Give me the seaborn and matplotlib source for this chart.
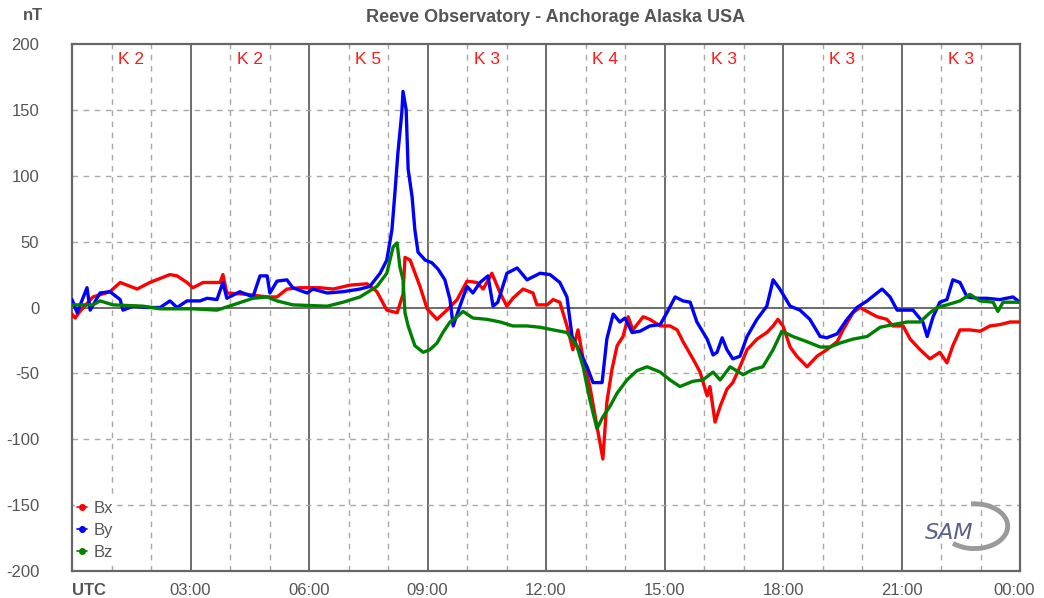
"""
Magnetometer chart: Reeve Observatory, Anchorage Alaska.
Values read by eye from the reference picture.
"""
import pandas as pd
import matplotlib
matplotlib.use("Agg")
import matplotlib.pyplot as plt
import matplotlib.transforms as mtransforms
from matplotlib.patches import Arc
from matplotlib.lines import Line2D
import seaborn as sns

# --- Data (hours UTC, nT) ---
bx_hours = [0.0, 0.08, 0.2, 0.53, 0.96, 1.22, 1.65, 1.97, 2.48, 2.66, 2.91, 3.06, 3.32, 3.75,
            3.82, 3.92, 4.43, 4.94, 5.19, 5.44, 5.77, 6.28, 6.61, 7.04, 7.47, 7.72, 7.97, 8.23,
            8.38, 8.43, 8.56, 8.81, 8.99, 9.24, 9.49, 9.75, 10.0, 10.25, 10.41, 10.63, 10.84,
            11.01, 11.16, 11.42, 11.67, 11.77, 12.03, 12.18, 12.35, 12.53, 12.68, 12.81, 12.94,
            13.11, 13.29, 13.44, 13.54, 13.67, 13.80, 13.95, 14.08, 14.20, 14.46, 14.63, 14.89,
            15.14, 15.32, 15.47, 15.72, 15.90, 16.08, 16.15, 16.28, 16.41, 16.58, 16.73, 16.91,
            17.09, 17.34, 17.59, 17.75, 17.87, 18.0, 18.18, 18.35, 18.61, 18.86, 19.11, 19.37,
            19.52, 19.77, 19.95, 20.13, 20.38, 20.63, 20.78, 21.04, 21.22, 21.47, 21.72, 21.97,
            22.15, 22.30, 22.48, 22.73, 22.99, 23.24, 23.49, 23.75, 24.0]
bx_values = [-5, -8, -3, 8, 12, 19, 14, 19, 25, 24, 19, 15, 19, 19,
             25, 11, 10, 8, 8, 14, 15, 15, 14, 17, 18, 12, -2, -4,
             10, 38, 36, 16, -1, -9, -2, 6, 20, 19, 14, 26, 11,
             1, 7, 14, 11, 2, 2, 6, 4, -14, -32, -17, -39,
             -60, -90, -115, -72, -47, -29, -22, -7, -17, -7, -9, -14,
             -14, -17, -26, -39, -49, -67, -60, -87, -75, -62, -57, -45,
             -32, -24, -19, -14, -9, -14, -30, -37, -45, -37, -32, -26,
             -17, -4, 0, -3, -7, -9, -14, -14, -24, -32, -39, -34,
             -42, -29, -17, -17, -18, -14, -13, -11, -11]

by_hours = [0.0, 0.13, 0.38, 0.46, 0.71, 0.96, 1.22, 1.29, 1.55, 1.90, 2.23, 2.48, 2.66, 2.91,
            3.24, 3.42, 3.67, 3.82, 3.92, 4.25, 4.58, 4.76, 4.94, 5.01, 5.19, 5.44, 5.59, 5.95,
            6.10, 6.46, 6.86, 7.29, 7.54, 7.80, 7.97, 8.10, 8.18, 8.25, 8.35, 8.38, 8.46, 8.51,
            8.61, 8.68, 8.76, 8.94, 9.11, 9.27, 9.44, 9.57, 9.65, 9.82, 10.0, 10.15, 10.33,
            10.53, 10.66, 10.78, 11.01, 11.27, 11.52, 11.85, 12.10, 12.35, 12.53, 12.66, 12.78,
            13.04, 13.19, 13.42, 13.54, 13.70, 13.87, 14.00, 14.18, 14.38, 14.63, 14.89, 15.06,
            15.27, 15.47, 15.65, 15.82, 16.08, 16.23, 16.33, 16.46, 16.58, 16.73, 16.91, 17.09,
            17.34, 17.59, 17.75, 17.92, 18.18, 18.43, 18.68, 18.94, 19.11, 19.37, 19.62, 19.87,
            20.13, 20.38, 20.51, 20.71, 20.89, 21.04, 21.29, 21.54, 21.65, 21.80, 21.97, 22.15,
            22.30, 22.48, 22.66, 22.91, 23.16, 23.49, 23.82, 24.0]
by_values = [6, -4, 15, -2, 11, 12, 6, -2, 1, 0, 0, 5, 0, 5,
             5, 7, 6, 19, 7, 12, 8, 24, 24, 11, 20, 21, 15, 11,
             14, 11, 12, 14, 16, 26, 36, 59, 89, 117, 148, 164, 150, 105,
             84, 59, 42, 36, 34, 29, 21, 6, -14, 1, 16, 11, 19,
             24, 1, 4, 26, 30, 21, 26, 25, 19, 8, -22, -29,
             -45, -57, -57, -24, -5, -11, -8, -19, -18, -14, -13, -4,
             8, 5, 4, -11, -24, -36, -34, -23, -32, -39, -37, -22,
             -9, 1, 21, 14, 1, -2, -9, -22, -23, -20, -9, 0,
             5, 11, 14, 8, -2, -2, -2, -11, -22, -7, 4, 6,
             21, 19, 8, 7, 7, 6, 8, 4]

bz_hours = [0.0, 0.53, 0.71, 1.04, 1.80, 2.23, 3.06, 3.67, 4.08, 4.58, 4.94, 5.19, 5.59, 6.46,
            6.86, 7.29, 7.72, 7.97, 8.13, 8.23, 8.30, 8.38, 8.43, 8.51, 8.68, 8.89, 9.06, 9.24,
            9.39, 9.57, 9.75, 9.90, 10.15, 10.51, 10.84, 11.16, 11.52, 11.85, 12.18, 12.53,
            12.78, 12.94, 13.11, 13.29, 13.44, 13.62, 13.80, 14.05, 14.30, 14.56, 14.89, 15.14,
            15.39, 15.72, 15.97, 16.23, 16.41, 16.66, 16.99, 17.24, 17.49, 17.75, 17.97, 18.25,
            18.61, 18.94, 19.19, 19.44, 19.77, 20.13, 20.46, 20.78, 21.14, 21.47, 21.72, 21.90,
            22.15, 22.48, 22.73, 22.99, 23.32, 23.44, 23.57, 24.0]
bz_values = [2, 2, 5, 2, 1, -1, -1, -2, 2, 7, 8, 5, 2, 1,
             4, 8, 16, 26, 46, 49, 31, 21, -4, -14, -29, -34, -32, -27,
             -19, -11, -7, -3, -8, -9, -11, -14, -14, -15, -17, -19,
             -29, -45, -70, -92, -83, -75, -65, -55, -48, -45, -49, -55,
             -60, -56, -55, -49, -55, -45, -51, -47, -45, -32, -18, -22,
             -26, -30, -30, -27, -24, -22, -15, -13, -11, -11, -4, 0,
             2, 5, 10, 5, 4, -3, 4, 4]

k_index = [2, 2, 5, 3, 4, 3, 3, 3]
hour_ticks = list(range(0, 25, 3))
hour_labels = ["UTC", "03:00", "06:00", "09:00", "12:00", "15:00", "18:00", "21:00", "00:00"]
nt_ticks = list(range(-200, 201, 50))

df = pd.concat([
    pd.DataFrame({"Hour": bx_hours, "nT": bx_values, "Component": "Bx"}),
    pd.DataFrame({"Hour": by_hours, "nT": by_values, "Component": "By"}),
    pd.DataFrame({"Hour": bz_hours, "nT": bz_values, "Component": "Bz"}),
], ignore_index=True)

colors = {"Bx": "#ff0000", "By": "#0000ff", "Bz": "#008000"}
TEXT = "#555555"

sns.set_theme(style="white")
plt.rcParams["font.family"] = ["Liberation Sans", "DejaVu Sans"]

fig = plt.figure(figsize=(10.44, 5.98), dpi=100)
ax = fig.add_axes([72 / 1044, 27 / 598, 948 / 1044, 527 / 598])

# grid first so the traces sit above it
for h in range(1, 24):
    if h % 3:
        ax.axvline(h, color="#a8a8a8", lw=1, ls=(0, (4, 4)), zorder=1)
    else:
        ax.axvline(h, color="#606060", lw=1.3, zorder=1)
for v in nt_ticks[1:-1]:
    if v:
        ax.axhline(v, color="#a8a8a8", lw=1, ls=(0, (4, 4)), zorder=1)
    else:
        ax.axhline(v, color="#606060", lw=1.3, zorder=1)

sns.lineplot(data=df, x="Hour", y="nT", hue="Component", palette=colors,
             estimator=None, sort=False, linewidth=2.4, legend=False, ax=ax, zorder=3)

ax.set_xlim(0, 24)
ax.set_ylim(-200, 200)
ax.set_xticks(hour_ticks)
ax.set_xticks(range(25), minor=True)
ax.set_xticklabels(hour_labels)
ax.set_yticks(nt_ticks)
ax.set_yticklabels([str(v) for v in nt_ticks])
ax.set_xlabel("")
ax.set_ylabel("")
ax.tick_params(axis="both", which="both", direction="inout", length=9, width=1.3,
               color="#505050", labelcolor=TEXT, labelsize=12)
ax.tick_params(axis="y", pad=19)
ax.tick_params(axis="x", pad=4)
for s in ax.spines.values():
    s.set_color("#666666")
    s.set_linewidth(1.6)

xl = ax.get_xticklabels()
xl[0].set_ha("left")
xl[0].set_fontweight("bold")
xl[-1].set_transform(xl[-1].get_transform() +
                     mtransforms.ScaledTranslation(-6 / 100, 0, fig.dpi_scale_trans))

# K index per 3-hour block
for i, k in enumerate(k_index):
    ax.text(i * 3 + 1.5, 188, f"K {k}", color="#ff1a1a", fontsize=12.5,
            ha="center", va="center", zorder=4)

fig.text(556 / 1044, 1 - 18 / 598, "Reeve Observatory - Anchorage Alaska USA",
         ha="center", va="center", fontsize=13, fontweight="bold", color=TEXT)
fig.text(33 / 1044, 1 - 16 / 598, "nT", ha="center", va="center",
         fontsize=12, fontweight="bold", color=TEXT)

# legend (white box hides the grid behind it)
handles = [Line2D([0], [0], color=colors[c], marker="o", markersize=4, lw=1.2)
           for c in ["Bx", "By", "Bz"]]
leg = ax.legend(handles, ["Bx", "By", "Bz"], loc="lower left", frameon=True,
                handlelength=0.6, handletextpad=0.4, labelspacing=0.42,
                fontsize=12, borderaxespad=0.2, bbox_to_anchor=(0.0, 0.012),
                borderpad=0.1, fancybox=False)
leg.get_frame().set_facecolor("white")
leg.get_frame().set_edgecolor("none")
leg.get_frame().set_alpha(1)
leg.set_zorder(5)
for t in leg.get_texts():
    t.set_color(TEXT)

# SAM logo
ax.add_patch(Arc((0.952, 0.085), 0.07, 0.085, theta1=235, theta2=95,
                 transform=ax.transAxes, color="#9a9a9a", lw=3.5, zorder=2))
ax.text(0.925, 0.072, "SAM", transform=ax.transAxes, ha="center", va="center",
        fontsize=16, style="italic", color="#5a6088", family="DejaVu Sans", zorder=2)

plt.savefig("out.png", dpi=100, facecolor="white")
plt.close()
